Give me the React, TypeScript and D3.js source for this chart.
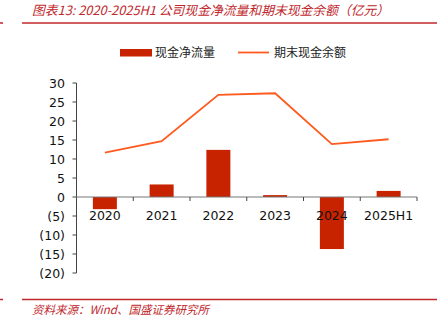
import React from "react";
import * as d3 from "d3";

const categories = ["2020", "2021", "2022", "2023", "2024", "2025H1"];
const netCashFlow = [-3.2, 3.3, 12.4, 0.5, -13.7, 1.6];
const endingCash = [11.7, 14.7, 26.9, 27.3, 13.9, 15.2];
const yTicks = [30, 25, 20, 15, 10, 5, 0, -5, -10, -15, -20];

const W = 445, H = 325;
const left = 76.5, right = 417, top = 83, bottom = 273;
const barColor = "#C82300";
const lineColor = "#FF5A1E";
const red = "#C0282D";

export default function App() {
  const x = d3.scaleBand<string>().domain(categories).range([left, right]).paddingInner(0).paddingOuter(0);
  const y = d3.scaleLinear().domain([-20, 30]).range([bottom, top]);
  const bw = 24;
  const line = d3.line<number>()
    .x((_, i) => (x(categories[i]) as number) + x.bandwidth() / 2)
    .y((d) => y(d));
  const fmt = (v: number) => (v < 0 ? `(${-v})` : `${v}`);
  const font = "'DejaVu Sans', Verdana, sans-serif";
  return (
    <svg width={W} height={H} style={{ position: "absolute", left: 0, top: 0, background: "#fff" }}>
      {/* title */}
      <text x={32} y={14.5} fill={red} fontSize={12.8} fontStyle="italic" fontFamily="'Noto Sans CJK SC', sans-serif">
        图表13:  2020-2025H1 公司现金净流量和期末现金余额（亿元）
      </text>
      <line x1={0} x2={3} y1={23} y2={23} stroke={red} strokeWidth={1.5} />
      <line x1={22} x2={437} y1={23} y2={23} stroke={red} strokeWidth={1.5} />

      {/* legend */}
      <rect x={120} y={49} width={32} height={7.5} fill={barColor} />
      <text x={155} y={57} fontSize={12} fontFamily="'Noto Sans CJK SC', sans-serif" fill="#222">现金净流量</text>
      <line x1={238} x2={269} y1={52.5} y2={52.5} stroke={lineColor} strokeWidth={1.8} />
      <text x={274} y={57} fontSize={12} fontFamily="'Noto Sans CJK SC', sans-serif" fill="#222">期末现金余额</text>

      {/* y axis */}
      <line x1={left} x2={left} y1={top} y2={bottom} stroke="#444" />
      {yTicks.map((t) => (
        <g key={t}>
          <line x1={left - 4} x2={left} y1={y(t)} y2={y(t)} stroke="#444" />
          <text x={65} y={y(t) + 4.5} textAnchor="end" fontSize={12.5} fontFamily={font} fill="#111">{fmt(t)}</text>
        </g>
      ))}

      {/* bars */}
      {netCashFlow.map((v, i) => {
        const cx = (x(categories[i]) as number) + x.bandwidth() / 2;
        return (
          <rect key={i} x={cx - bw / 2} width={bw} y={Math.min(y(v), y(0))} height={Math.abs(y(v) - y(0))} fill={barColor} />
        );
      })}

      {/* x axis */}
      <line x1={left} x2={right} y1={y(0)} y2={y(0)} stroke="#777" />
      {categories.map((c, i) => (
        <g key={c}>
          {i > 0 && <line x1={x(c)} x2={x(c)} y1={y(0)} y2={y(0) + 4} stroke="#444" />}
          <text x={(x(c) as number) + x.bandwidth() / 2} y={219.5} textAnchor="middle" fontSize={12.5} fontFamily={font} fill="#111">{c}</text>
        </g>
      ))}
      <line x1={right} x2={right} y1={y(0)} y2={y(0) + 4} stroke="#444" />

      {/* line */}
      <path d={line(endingCash) as string} fill="none" stroke={lineColor} strokeWidth={1.8} />

      {/* footer */}
      <line x1={0} x2={3} y1={299.5} y2={299.5} stroke={red} strokeWidth={1.5} />
      <line x1={22} x2={437} y1={299.5} y2={299.5} stroke={red} strokeWidth={1.5} />
      <text x={32} y={314} fill={red} fontSize={11.5} fontStyle="italic" fontFamily="'Noto Sans CJK SC', sans-serif">
        资料来源：Wind、国盛证券研究所
      </text>
    </svg>
  );
}
